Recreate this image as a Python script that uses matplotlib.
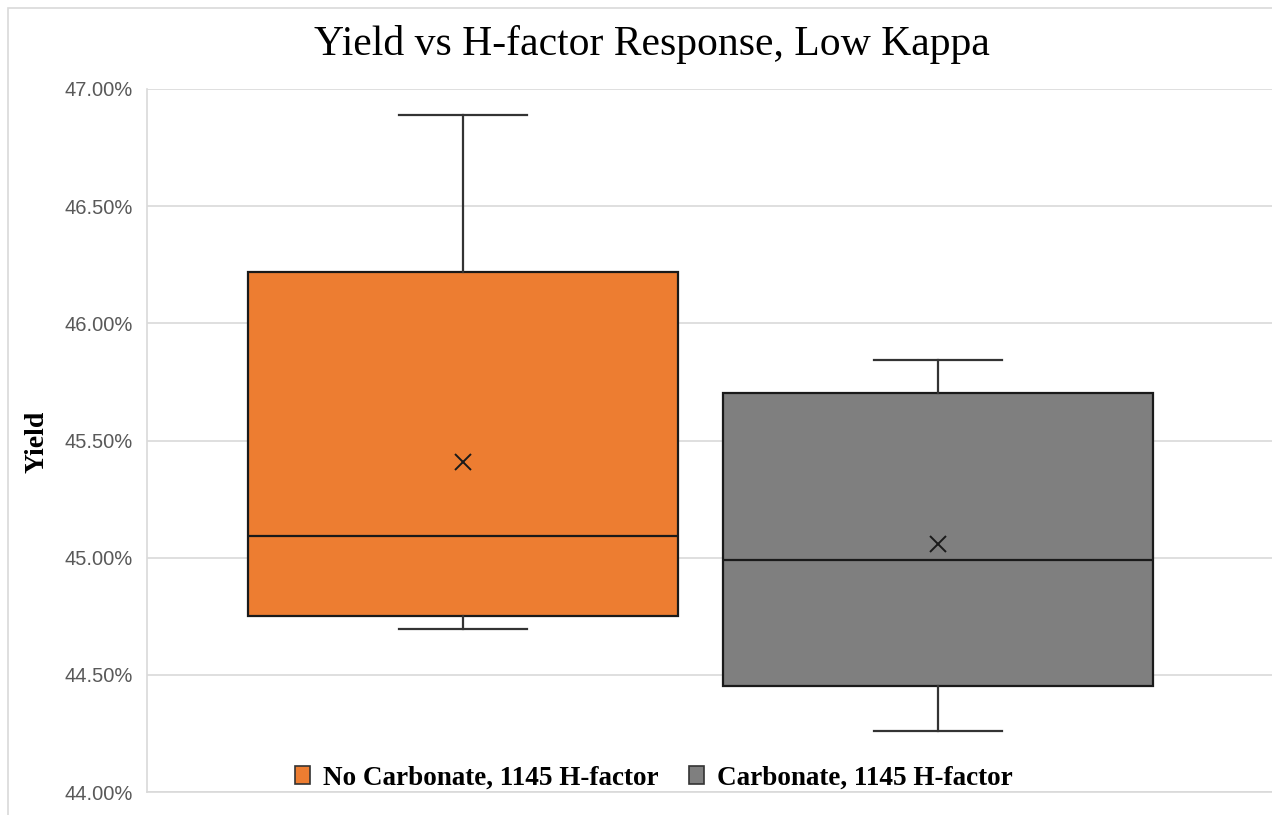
import matplotlib.pyplot as plt
from matplotlib.patches import Patch, Rectangle
from matplotlib.ticker import FuncFormatter

# box stats (yield, %)
labels = ['No Carbonate, 1145 H-factor', 'Carbonate, 1145 H-factor']
whislo = [44.694, 44.260]
q1 = [44.751, 44.452]
med = [45.092, 44.990]
q3 = [46.218, 45.701]
whishi = [46.890, 45.842]
means = [45.407, 45.058]
colors = ['#ED7D31', '#7F7F7F']
yticks = [44.0, 44.5, 45.0, 45.5, 46.0, 46.5, 47.0]

fig = plt.figure(figsize=(12.72, 8.15), dpi=100)
# outer chart border
fig.patches.append(Rectangle((8 / 1272, -0.1), 1.2, (815 - 8) / 815 + 0.1,
                             transform=fig.transFigure, fill=False,
                             edgecolor='#d9d9d9', linewidth=1.2))

ax = fig.add_axes([147 / 1272, 23 / 815, 1.0 - 147 / 1272, 703 / 815])

stats = []
for i in range(len(labels)):
    stats.append(dict(label=labels[i], whislo=whislo[i], q1=q1[i], med=med[i],
                      q3=q3[i], whishi=whishi[i], mean=means[i], fliers=[]))

bp = ax.bxp(stats, positions=[0, 1], widths=0.905, capwidths=0.27,
            showmeans=True, patch_artist=True,
            boxprops=dict(edgecolor='#1a1a1a', linewidth=1.6),
            medianprops=dict(color='#1a1a1a', linewidth=1.6),
            whiskerprops=dict(color='#333333', linewidth=1.6),
            capprops=dict(color='#333333', linewidth=1.6),
            meanprops=dict(marker='x', markeredgecolor='#1a1a1a',
                           markersize=11, markeredgewidth=1.4))
for box, c in zip(bp['boxes'], colors):
    box.set_facecolor(c)

ax.set_xlim(-0.665, 1.703)
ax.set_ylim(44.0, 47.0)
ax.set_yticks(yticks)
ax.yaxis.set_major_formatter(FuncFormatter(lambda v, p: f'{v:.2f}%'))
ax.tick_params(axis='y', length=0, pad=10, labelsize=14.5, labelcolor='#595959')
for t in ax.get_yticklabels():
    t.set_family('Liberation Sans')
ax.set_xticks([])
ax.grid(axis='y', color='#d9d9d9', linewidth=1.2)
ax.set_axisbelow(True)
for s in ['top', 'right']:
    ax.spines[s].set_visible(False)
for s in ['left', 'bottom']:
    ax.spines[s].set_color('#d9d9d9')
    ax.spines[s].set_linewidth(1.2)

fig.text(652 / 1272, 1 - 45 / 815, 'Yield vs H-factor Response, Low Kappa',
         ha='center', va='center', family='Liberation Serif', fontsize=30)
fig.text(37 / 1272, 1 - 442 / 815, 'Yield', rotation=90, ha='center', va='center',
         family='Liberation Serif', fontweight='bold', fontsize=20)

handles = [Patch(facecolor=c, edgecolor='#333333', linewidth=1.2) for c in colors]
fig.legend(handles, labels, loc='center', bbox_to_anchor=(654 / 1272, 1 - 778 / 815),
           ncol=2, frameon=False, handlelength=0.55, handleheight=0.6,
           handletextpad=0.5, columnspacing=1.1,
           prop=dict(family='Liberation Serif', weight='bold', size=19.5))

fig.savefig('out.png', dpi=100)
